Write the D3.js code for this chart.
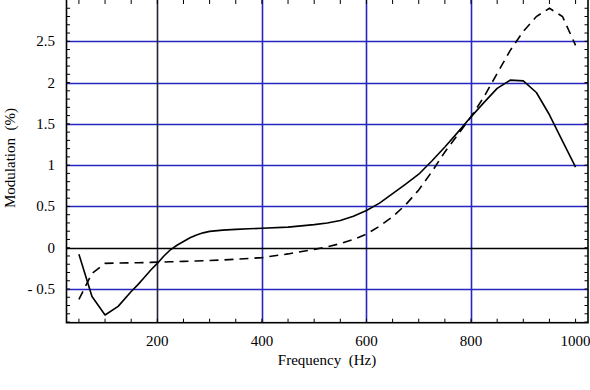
<!DOCTYPE html>
<html>
<head>
  <meta charset="utf-8">
  <script src="https://d3js.org/d3.v7.min.js"></script>
  <style>
    body { margin: 0; background: #fff; }
  </style>
</head>
<body>
<script>
  (function () {
  "use strict";

  // frequency samples (Hz)
  var freq = [50, 75, 100, 125, 150, 162.5, 175, 187.5, 200, 212.5, 225, 237.5, 250, 262.5, 275, 287.5, 300,
              325, 350, 375, 400, 450, 500, 525, 550, 575, 600, 625, 650, 675, 700, 725, 750, 775, 800,
              825, 850, 875, 900, 925, 950, 975, 1000];
  // solid curve
  var solid = [-0.08, -0.59, -0.815, -0.71, -0.53, -0.45, -0.36, -0.27, -0.19, -0.1, -0.025, 0.03, 0.075, 0.12, 0.155, 0.18, 0.198,
               0.213, 0.222, 0.229, 0.235, 0.25, 0.28, 0.3, 0.33, 0.38, 0.45, 0.54, 0.655, 0.77, 0.89, 1.05, 1.22, 1.4, 1.585,
               1.76, 1.93, 2.03, 2.02, 1.88, 1.61, 1.29, 0.975];
  // dashed curve
  var dashed = [-0.625, -0.31, -0.19, -0.185, -0.183, -0.182, -0.18, -0.178, -0.175, -0.173, -0.17, -0.168, -0.165, -0.163, -0.16, -0.158, -0.155,
                -0.148, -0.14, -0.13, -0.12, -0.075, -0.02, 0.01, 0.05, 0.1, 0.165, 0.26, 0.375, 0.52, 0.7, 0.92, 1.16, 1.37, 1.585,
                1.83, 2.11, 2.39, 2.62, 2.8, 2.9, 2.8, 2.45];

  var xGrid = [200, 400, 600, 800];
  var yGrid = [-0.5, 0.5, 1, 1.5, 2, 2.5];
  var xLabels = [200, 400, 600, 800, 1000];
  var yLabels = [-0.5, 0, 0.5, 1, 1.5, 2, 2.5];

  var W = 590, H = 390;
  var pL = 66.5, pR = 588, pT = 0, pB = 322.7;
  var serif = "'Liberation Serif', 'DejaVu Serif', 'Times New Roman', serif";

  var x = d3.scaleLinear().domain([26.25, 1023.75]).range([pL, pR]);
  var y = d3.scaleLinear().domain([-0.908, 3.0]).range([pB, pT]);

  var svg = d3.select("body").append("svg")
      .attr("width", W).attr("height", H);

  // grid lines
  svg.selectAll(".gy").data(yGrid).enter().append("line")
      .attr("x1", pL).attr("x2", pR)
      .attr("y1", function (d) { return Math.round(y(d)) + 0.5; })
      .attr("y2", function (d) { return Math.round(y(d)) + 0.5; })
      .attr("stroke", "#2626c0").attr("stroke-width", 1.6);
  svg.selectAll(".gx").data(xGrid).enter().append("line")
      .attr("y1", pT).attr("y2", pB)
      .attr("x1", function (d) { return Math.round(x(d)) + 0.5; })
      .attr("x2", function (d) { return Math.round(x(d)) + 0.5; })
      .attr("stroke", function (d) { return d === 200 ? "#23233a" : "#2626c0"; })
      .attr("stroke-width", 1.6);
  // zero line
  svg.append("line")
      .attr("x1", pL).attr("x2", pR)
      .attr("y1", Math.round(y(0)) + 0.5).attr("y2", Math.round(y(0)) + 0.5)
      .attr("stroke", "#000").attr("stroke-width", 1.4);

  // minor ticks, inward on all four sides
  var xt = d3.range(50, 1001, 50), yt = d3.range(-9, 30).map(function (i) { return i / 10; });
  svg.selectAll(".tb").data(xt).enter().append("line")
      .attr("x1", function (d) { return x(d); }).attr("x2", function (d) { return x(d); })
      .attr("y1", pB).attr("y2", pB - 4)
      .attr("stroke", "#000").attr("stroke-width", 1);
  svg.selectAll(".tt").data(xt).enter().append("line")
      .attr("x1", function (d) { return x(d); }).attr("x2", function (d) { return x(d); })
      .attr("y1", pT).attr("y2", pT + 4)
      .attr("stroke", "#000").attr("stroke-width", 1);
  svg.selectAll(".tl").data(yt).enter().append("line")
      .attr("y1", function (d) { return y(d); }).attr("y2", function (d) { return y(d); })
      .attr("x1", pL).attr("x2", pL + 3.5)
      .attr("stroke", "#000").attr("stroke-width", 1);
  svg.selectAll(".tr").data(yt).enter().append("line")
      .attr("y1", function (d) { return y(d); }).attr("y2", function (d) { return y(d); })
      .attr("x1", pR).attr("x2", pR - 3.5)
      .attr("stroke", "#000").attr("stroke-width", 1);

  // frame
  svg.append("rect")
      .attr("x", pL).attr("y", pT - 1)
      .attr("width", pR - pL).attr("height", pB - pT + 1)
      .attr("fill", "none").attr("stroke", "#000").attr("stroke-width", 1.6);

  // curves
  var line = d3.line()
      .x(function (d) { return x(d[0]); })
      .y(function (d) { return y(d[1]); });
  svg.append("path")
      .datum(d3.zip(freq, solid))
      .attr("d", line).attr("fill", "none")
      .attr("stroke", "#000").attr("stroke-width", 1.6)
      .attr("stroke-linejoin", "round");
  svg.append("path")
      .datum(d3.zip(freq, dashed))
      .attr("d", line).attr("fill", "none")
      .attr("stroke", "#000").attr("stroke-width", 1.6)
      .attr("stroke-dasharray", "9,6");

  // tick labels
  svg.selectAll(".xl").data(xLabels).enter().append("text")
      .attr("x", function (d) { return x(d); })
      .attr("y", 346)
      .attr("text-anchor", "middle")
      .style("font-family", serif).style("font-size", "15px")
      .text(function (d) { return d; });
  svg.selectAll(".yl").data(yLabels).enter().append("text")
      .attr("x", 55)
      .attr("y", function (d) { return y(d) + 5; })
      .attr("text-anchor", "end")
      .style("font-family", serif).style("font-size", "15px")
      .style("white-space", "pre")
      .text(function (d) { return d < 0 ? "- " + Math.abs(d) : d; });

  // axis titles
  svg.append("text")
      .attr("x", 327).attr("y", 365)
      .attr("text-anchor", "middle")
      .style("font-family", serif).style("font-size", "15px")
      .style("white-space", "pre")
      .text("Frequency  (Hz)");
  svg.append("text")
      .attr("transform", "translate(15,158) rotate(-90)")
      .attr("text-anchor", "middle")
      .style("font-family", serif).style("font-size", "15px")
      .style("white-space", "pre")
      .text("Modulation  (%)");
  })();
</script>
</body>
</html>
